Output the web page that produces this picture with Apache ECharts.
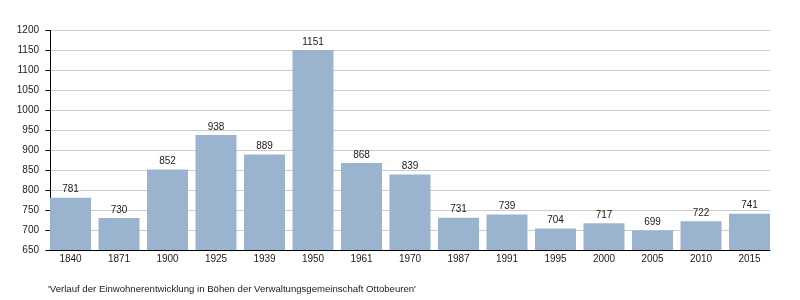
<!DOCTYPE html>
<html><head><meta charset="utf-8">
<script src="https://cdn.jsdelivr.net/npm/echarts@6/dist/echarts.min.js"></script>
<style>html,body{margin:0;padding:0;background:#fff}#c{width:800px;height:300px}</style>
</head><body><div id="c"></div>
<script>
var years = ['1840','1871','1900','1925','1939','1950','1961','1970','1987','1991','1995','2000','2005','2010','2015'];
var population = [781,730,852,938,889,1151,868,839,731,739,704,717,699,722,741];
var yTicks = {min:650, max:1200, interval:50};
var caption = "'Verlauf der Einwohnerentwicklung in Böhen der Verwaltungsgemeinschaft Ottobeuren'";

var chart = echarts.init(document.getElementById('c'), null, {renderer:'canvas'});
var font = 'Liberation Sans, Arial, sans-serif';
var txt = '#1a1a1a';
chart.setOption({
  animation:false,
  textStyle:{fontFamily:font},
  grid:[
    {left:50, right:30, top:30.5, bottom:50, containLabel:false},
    {left:46.25, right:26.25, top:30.5, bottom:50, containLabel:false}
  ],
  title:{text:caption, left:43, top:279, textStyle:{fontSize:9.6, fontWeight:'normal', color:txt, fontFamily:font}},
  xAxis:[
    {type:'category', gridIndex:0, data:years,
      axisLine:{lineStyle:{color:'#000', width:1}},
      axisTick:{show:false}, axisLabel:{show:false}, splitLine:{show:false}, z:5},
    {type:'category', gridIndex:1, data:years,
      axisLine:{show:false}, axisTick:{show:false}, splitLine:{show:false},
      axisLabel:{color:txt, fontSize:10, margin:4, fontFamily:font}}
  ],
  yAxis:[
    {type:'value', gridIndex:0, min:yTicks.min, max:yTicks.max, interval:yTicks.interval,
      axisLine:{show:true, lineStyle:{color:'#000', width:1}},
      axisTick:{show:true, length:4.5, inside:false, lineStyle:{color:'#000'}},
      axisLabel:{color:txt, fontSize:10, margin:11, fontFamily:font, formatter:function(v){return String(v);}},
      splitLine:{lineStyle:{color:'#cccccc', width:1}}},
    {type:'value', gridIndex:1, min:yTicks.min, max:yTicks.max, interval:yTicks.interval,
      show:false, splitLine:{show:false}}
  ],
  series:[{type:'bar', xAxisIndex:1, yAxisIndex:1, data:population, barCategoryGap:'15.5%',
    itemStyle:{color:'#9ab3cf'},
    label:{show:true, position:'top', color:txt, fontSize:10, distance:3, fontFamily:font}}]
});
</script></body></html>
